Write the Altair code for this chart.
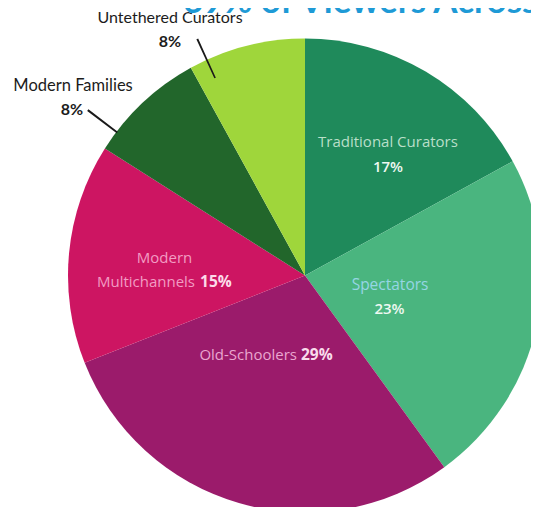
import math
import altair as alt
import pandas as pd

# ---- data ----
categories = ["Traditional Curators", "Spectators", "Old-Schoolers",
              "Modern Multichannels", "Modern Families", "Untethered Curators"]
shares = [17, 23, 29, 15, 8, 8]
colors = ["#1f8a5b", "#4ab57f", "#9b1b6b", "#cd1562", "#22662b", "#9fd63b"]
title_text = ["69% of Viewers Across"]

df = pd.DataFrame({
    "category": categories,
    "share": shares,
    "idx": list(range(len(categories))),
})
df["first"] = df["category"].str.split(" ").str[0]
df["rest"] = df["category"].str.split(" ").str[1:].str.join(" ")

# ---- layout ----
W, H = 523, 499
CX, CY = alt.value(297), alt.value(267.5)
R_PIE = 237
IN_FONT = "Open Sans"
OUT_FONT = "Lato"
TH = alt.Scale(domain=[0, 100], range=[0, 2 * math.pi])

base = (
    alt.Chart(df)
    .transform_window(cum="sum(share)", sort=[alt.SortField("idx")], frame=[None, 0])
    .transform_calculate(
        start="datum.cum - datum.share",
        mid="datum.cum - datum.share / 2",
        pct="datum.share + '%'",
    )
)

pie = base.mark_arc(outerRadius=R_PIE).encode(
    theta=alt.Theta("share:Q", stack=True, scale=TH),
    order=alt.Order("idx:Q"),
    color=alt.Color("category:N", scale=alt.Scale(domain=categories, range=colors), legend=None),
    x=CX, y=CY,
)


def label(cat, field, r, dx, dy, size, color, weight="normal", align="center", font=IN_FONT):
    return base.transform_filter(alt.datum.category == cat).mark_text(
        dx=dx, dy=dy, fontSize=size, color=color, fontWeight=weight,
        align=align, baseline="middle", font=font,
    ).encode(
        theta=alt.Theta("mid:Q", scale=TH),
        radius=alt.value(r),
        x=CX, y=CY,
        text=alt.Text(f"{field}:N"),
    )


def leader(cat, offset, r0, r1):
    return base.transform_filter(alt.datum.category == cat).transform_calculate(
        a0=f"datum.start + {offset} - 0.06",
        a1=f"datum.start + {offset} + 0.06",
    ).mark_arc(innerRadius=r0, outerRadius=r1, color="#1a1a1a").encode(
        theta=alt.Theta("a0:Q", scale=TH, stack=False),
        theta2="a1:Q",
        x=CX, y=CY,
    )


labels = [
    label("Traditional Curators", "category", 150, 6.6, -4.4, 15, "#b9dfc9"),
    label("Traditional Curators", "pct", 150, 6.6, 20.6, 15, "#eef8f1", 600),
    label("Spectators", "category", 90, -2.8, -10.1, 15.5, "#96d6e4"),
    label("Spectators", "pct", 90, -3.3, 13.9, 15, "#eef8f1", 600),
    label("Old-Schoolers", "category", 85, 15.7, -2.1, 15, "#eaa6d0", "normal", "right"),
    label("Old-Schoolers", "pct", 85, 19.7, -2.1, 15.5, "#f9dbec", "bold", "left"),
    label("Modern Multichannels", "first", 142, 0.9, -4.1, 15, "#f29cc3"),
    label("Modern Multichannels", "rest", 142, 31.4, 19.9, 15, "#f29cc3", "normal", "right"),
    label("Modern Multichannels", "pct", 142, 36.4, 19.9, 15.5, "#fcdbe9", "bold", "left"),
    label("Modern Families", "category", 300, -26.6, 29.2, 16.5, "#1c1c1c", "normal", "center", OUT_FONT),
    label("Modern Families", "pct", 300, -27.6, 53.2, 16, "#1c1c1c", "bold", "center", OUT_FONT),
    label("Untethered Curators", "category", 260, -70.3, -5.7, 16, "#1c1c1c", "normal", "center", OUT_FONT),
    label("Untethered Curators", "pct", 260, -70.3, 18.3, 16, "#1c1c1c", "bold", "center", OUT_FONT),
]

leaders = [
    leader("Modern Families", 1.36, 236, 273),
    leader("Untethered Curators", 1.2, 217, 260),
]

title = alt.Chart(pd.DataFrame({"t": title_text})).mark_text(
    align="left", baseline="alphabetic", fontSize=35, fontWeight="bold",
    color="#1e9ad6", font=OUT_FONT,
).encode(x=alt.value(175), y=alt.value(4.5), text="t:N")

chart = alt.layer(pie, *leaders, *labels, title).properties(
    width=W, height=H,
    autosize=alt.AutoSizeParams(type="none"),
    padding=0,
).configure_view(stroke=None)

chart.save("out.html", embed_options={"renderer": "svg", "actions": False})
